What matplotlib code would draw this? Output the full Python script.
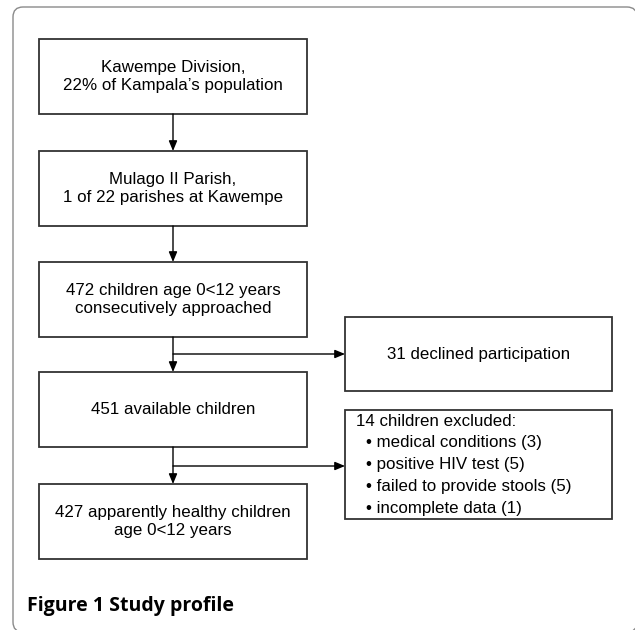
import matplotlib
matplotlib.use('Agg')
import matplotlib.pyplot as plt
from matplotlib.patches import Rectangle, FancyBboxPatch

# box texts of the flow chart
main_steps = [
    "Kawempe Division,\n22% of Kampala\u2019s population",
    "Mulago II Parish,\n1 of 22 parishes at Kawempe",
    "472 children age 0<12 years\nconsecutively approached",
    "451 available children",
    "427 apparently healthy children\nage 0<12 years",
]
declined_text = "31 declined participation"
excluded_title = "14 children excluded:"
excluded_items = [
    "medical conditions (3)",
    "positive HIV test (5)",
    "failed to provide stools (5)",
    "incomplete data (1)",
]
caption = "Figure 1 Study profile"

W, H = 635, 630
fig = plt.figure(figsize=(W / 100, H / 100), dpi=100)
ax = fig.add_axes([0, 0, 1, 1])
ax.set_xlim(0, W)
ax.set_ylim(H, 0)
ax.axis('off')

font = 'Liberation Sans'
edge = '#333333'

# outer rounded frame (right and bottom sides fall just outside the picture)
frame = FancyBboxPatch((13, 7), 624, 625, boxstyle='round,pad=0,rounding_size=10',
                       fc='white', ec='#8a8a8a', lw=1.0, clip_on=True)
ax.add_patch(frame)

# main column
bx0, bx1 = 39, 307
cx = (bx0 + bx1) / 2
tops = [39, 151, 262, 372, 484]
bh = 75
for t, txt in zip(tops, main_steps):
    ax.add_patch(Rectangle((bx0, t), bx1 - bx0, bh, fc='white', ec=edge, lw=1.3))
    ax.text(cx, t + bh / 2, txt, ha='center', va='center', fontsize=12.2,
            family=font, linespacing=1.2)

def arrow(x0, y0, x1, y1):
    ax.annotate('', xy=(x1, y1), xytext=(x0, y0),
                arrowprops=dict(arrowstyle='-|>,head_length=0.6,head_width=0.25',
                                color='black', lw=1.0, shrinkA=0, shrinkB=0))

for i in range(len(tops) - 1):
    arrow(cx, tops[i] + bh, cx, tops[i + 1])

# side boxes
sx0, sx1 = 345, 612
ax.add_patch(Rectangle((sx0, 317), sx1 - sx0, 74, fc='white', ec=edge, lw=1.3))
ax.text((sx0 + sx1) / 2, 354, declined_text, ha='center', va='center',
        fontsize=12.2, family=font)
arrow(cx, 354, sx0, 354)

ax.add_patch(Rectangle((sx0, 410), sx1 - sx0, 109, fc='white', ec=edge, lw=1.3))
ax.text(356, 422, excluded_title, ha='left', va='center', fontsize=12.2, family=font)
for k, item in enumerate(excluded_items):
    ax.text(366, 443 + k * 21.7, "\u2022 " + item, ha='left', va='center',
            fontsize=12.2, family=font)
arrow(cx, 466, sx0, 466)

ax.text(27, 606, caption, ha='left', va='center', fontsize=14,
        family='Open Sans', fontweight='bold')

fig.savefig('out.png', dpi=100)
